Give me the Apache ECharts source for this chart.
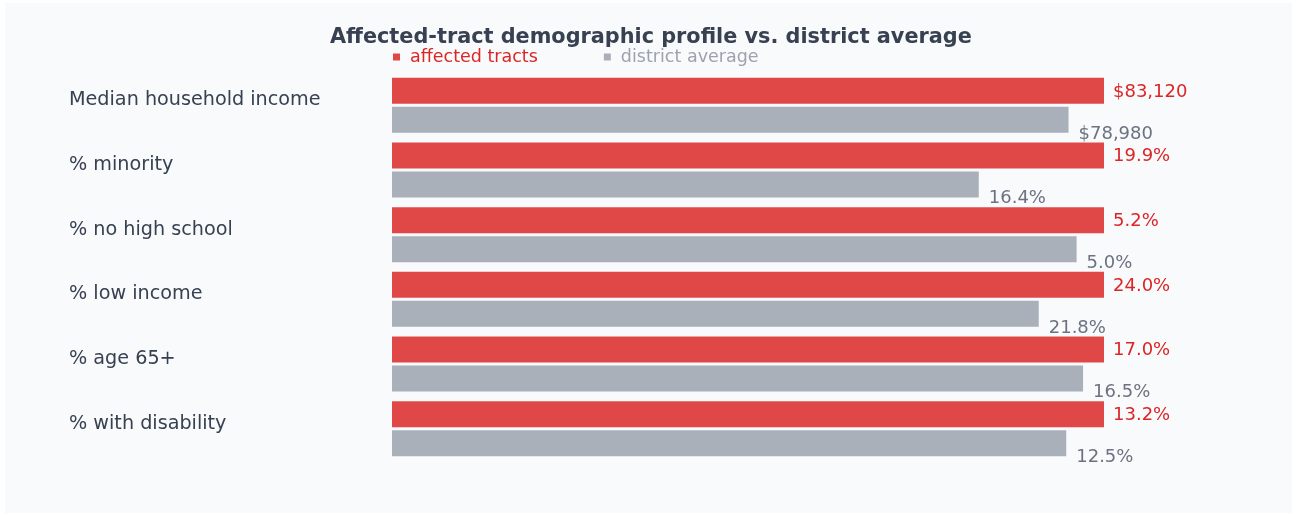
<!DOCTYPE html>
<html><head><meta charset="utf-8">
<script src="https://cdn.jsdelivr.net/npm/echarts@6/dist/echarts.min.js"></script>
<style>html,body{margin:0;padding:0;background:#ffffff;}#card{position:absolute;left:5px;top:3px;width:1287px;height:510px;background:#f8fafc;}#c{position:absolute;left:0;top:0;width:1296px;height:516px;}</style>
</head><body><div id="card"></div><div id="c"></div>
<script>
const categories = ["Median household income","% minority","% no high school","% low income","% age 65+","% with disability"];
const affectedValues = [83120, 19.9, 5.2, 24.0, 17.0, 13.2];
const districtValues = [78980, 16.4, 5.0, 21.8, 16.5, 12.5];
const valueFormats = ["money","pct","pct","pct","pct","pct"];
const seriesNames = ["affected tracts","district average"];

function fmt(v, kind){
  if(kind==="money") return "$" + v.toLocaleString("en-US");
  return v.toFixed(1) + "%";
}
const affData = affectedValues.map((v,i)=>({value: v/Math.max(v,districtValues[i]), raw: fmt(v,valueFormats[i])}));
const disData = districtValues.map((v,i)=>({value: v/Math.max(affectedValues[i],v), raw: fmt(v,valueFormats[i])}));

const chart = echarts.init(document.getElementById('c'), null, {renderer:'canvas'});
const FONT = "DejaVu Sans";
chart.setOption({
  backgroundColor: 'transparent',
  animation: false,
  title: {
    text: "Affected-tract demographic profile vs. district average",
    left: 325, top: 22,
    textStyle: {fontFamily: FONT, fontSize: 20.8, fontWeight: 'bold', color: '#374151'}
  },
  legend: {
    left: 393, top: 48, padding: 0,
    icon: 'rect', itemWidth: 7, itemHeight: 7, itemGap: 66,
    textStyle: {fontFamily: FONT, fontSize: 17.5, padding:[0,0,0,5]},
    data: [
      {name: seriesNames[0], textStyle: {color: '#dc2626'}},
      {name: seriesNames[1], textStyle: {color: '#9ca3af'}}
    ],
    selectedMode: false
  },
  grid: {left: 392, right: 192, top: 73, bottom: 55, containLabel: false},
  xAxis: {type: 'value', min: 0, max: 1, show: false},
  yAxis: {
    type: 'category', inverse: true, data: categories,
    axisLine: {show: false}, axisTick: {show: false},
    axisLabel: {align: 'left', margin: 323, fontFamily: FONT, fontSize: 19.2, color: '#374151', verticalAlign: 'bottom', lineHeight: 10}
  },
  series: [
    {
      name: seriesNames[0], type: 'bar', data: affData, barWidth: 26, barGap: '11.5%',
      itemStyle: {color: '#e04848'},
      label: {show: true, position: 'right', distance: 9, offset: [0, 1], fontFamily: FONT, fontSize: 18, color: '#dc2626',
        formatter: p => p.data.raw}
    },
    {
      name: seriesNames[1], type: 'bar', data: disData, barWidth: 26,
      itemStyle: {color: '#aab0ba'},
      label: {show: true, position: 'right', distance: 10, offset: [0, 14], fontFamily: FONT, fontSize: 18, color: '#6b7280',
        formatter: p => p.data.raw}
    }
  ]
});
</script></body></html>
